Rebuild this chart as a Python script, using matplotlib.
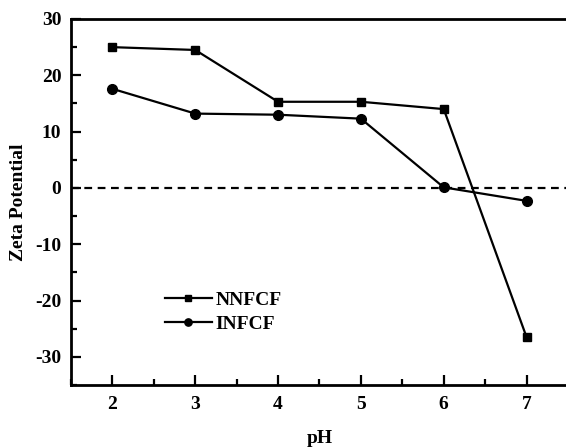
import numpy as np
import matplotlib.pyplot as plt
from matplotlib.ticker import MultipleLocator

ph = [2, 3, 4, 5, 6, 7]
nnfcf = [25.0, 24.5, 15.3, 15.3, 14.0, -26.5]
infcf = [17.6, 13.2, 13.0, 12.3, 0.1, -2.3]

plt.rcParams['font.family'] = ['Liberation Serif', 'DejaVu Serif']
plt.rcParams['font.weight'] = 'bold'
plt.rcParams['axes.unicode_minus'] = False

fig = plt.figure(figsize=(5.66, 4.47), dpi=100)
ax = fig.add_axes([0.1254, 0.1387, 0.8781, 0.8188])

ax.plot(ph, nnfcf, '-s', color='black', lw=1.6, ms=6, label='NNFCF')
ax.plot(ph, infcf, '-o', color='black', lw=1.6, ms=7, label='INFCF')
ax.axhline(0, color='black', lw=1.6, ls=(0, (3.5, 2.5)))

ax.set_xlim(1.5, 7.5)
ax.set_ylim(-35, 30)
ax.xaxis.set_major_locator(MultipleLocator(1))
ax.xaxis.set_minor_locator(MultipleLocator(0.5))
ax.yaxis.set_major_locator(MultipleLocator(10))
ax.yaxis.set_minor_locator(MultipleLocator(5))
ax.tick_params(which='both', direction='in', width=1.6, labelsize=14)
ax.tick_params(axis='x', pad=8)
ax.tick_params(axis='y', pad=7)
ax.tick_params(which='major', length=7)
ax.tick_params(which='minor', length=4)
for lbl in ax.get_xticklabels() + ax.get_yticklabels():
    lbl.set_fontweight('bold')
for s in ax.spines.values():
    s.set_linewidth(2)

ax.set_xlabel('pH', fontsize=14, fontweight='bold', labelpad=12)
ax.set_ylabel('Zeta Potential', fontsize=14, fontweight='bold', labelpad=6)

leg = ax.legend(loc='lower left', bbox_to_anchor=(0.154, 0.094), frameon=False,
                prop={'weight': 'bold', 'size': 14}, handlelength=2.4,
                handletextpad=0.2, labelspacing=0.35, markerscale=0.75)

fig.savefig('out.png', dpi=100)
